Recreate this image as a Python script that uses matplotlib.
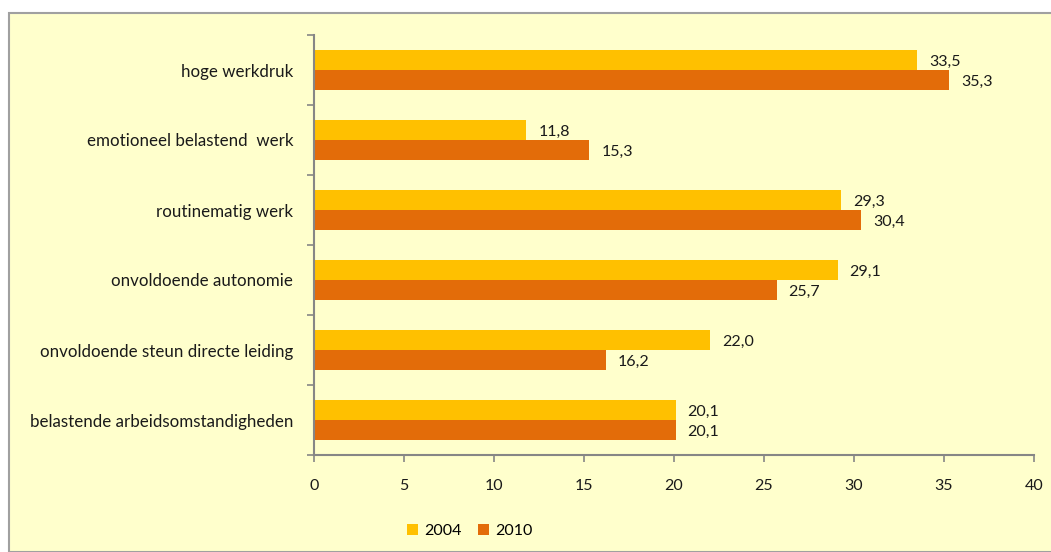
import matplotlib
matplotlib.use("Agg")
import matplotlib.pyplot as plt
import numpy as np
from matplotlib.patches import Rectangle

categories = ["hoge werkdruk", "emotioneel belastend  werk", "routinematig werk",
              "onvoldoende autonomie", "onvoldoende steun directe leiding",
              "belastende arbeidsomstandigheden"]
values_2004 = [33.5, 11.8, 29.3, 29.1, 22.0, 20.1]
values_2010 = [35.3, 15.3, 30.4, 25.7, 16.2, 20.1]
series_names = ["2004", "2010"]
x_ticks = [0, 5, 10, 15, 20, 25, 30, 35, 40]

plt.rcParams['font.family'] = ['Lato', 'DejaVu Sans']
BG = "#FFFFCC"
C04 = "#FFC000"
C10 = "#E36C09"
AX = "#868686"
FS = 11.5
TC = "#1a1a1a"

fig = plt.figure(figsize=(10.51, 5.52), dpi=100)
fig.patch.set_facecolor("white")
fig.patches.append(Rectangle((9/1051, 0), 1.0, 1 - 13/552, transform=fig.transFigure,
                             facecolor=BG, edgecolor="#A0A0A0", linewidth=1.5, zorder=-10))

ax = fig.add_axes([314/1051, 1 - 455/552, (1034 - 314)/1051, 420/552])
ax.set_facecolor(BG)
ax.patch.set_alpha(0)

n = len(categories)
pos = np.arange(n)[::-1]  # top category at top
h = 0.28
ax.barh(pos + h/2, values_2004, height=h, color=C04, label=series_names[0])
ax.barh(pos - h/2, values_2010, height=h, color=C10, label=series_names[1])

for p, v in zip(pos, values_2004):
    ax.annotate(f"{v:.1f}".replace(".", ","), (v, p + h/2), xytext=(8.5, -1.5),
                textcoords="offset points", va="center", ha="left", fontsize=FS, color=TC)
for p, v in zip(pos, values_2010):
    ax.annotate(f"{v:.1f}".replace(".", ","), (v, p - h/2), xytext=(8.5, -1.5),
                textcoords="offset points", va="center", ha="left", fontsize=FS, color=TC)

ax.set_xlim(0, 40)
ax.set_ylim(-0.5, n - 0.5)
ax.set_xticks(x_ticks)
ax.set_xticklabels([str(t) for t in x_ticks], fontsize=FS, color=TC)
ax.set_yticks(pos)
ax.set_yticklabels(categories, fontsize=12.2, color=TC)
ax.tick_params(axis="y", length=0, pad=15)
ax.set_yticks(np.arange(-0.5, n, 1.0), minor=True)
ax.tick_params(axis="y", which="minor", length=5, color=AX, width=1.2, direction="out")
ax.tick_params(axis="x", length=5, color=AX, width=1.2, direction="out", pad=12)

for s in ["top", "right"]:
    ax.spines[s].set_visible(False)
for s in ["left", "bottom"]:
    ax.spines[s].set_color(AX)
    ax.spines[s].set_linewidth(1.5)

leg = fig.legend(loc="center", bbox_to_anchor=(470/1051, 1 - 531/552), ncol=2, frameon=False,
                 fontsize=FS, handlelength=0.7, handleheight=0.7, handletextpad=0.4,
                 columnspacing=1.0)

fig.savefig("out.png", dpi=100, facecolor=fig.get_facecolor())
